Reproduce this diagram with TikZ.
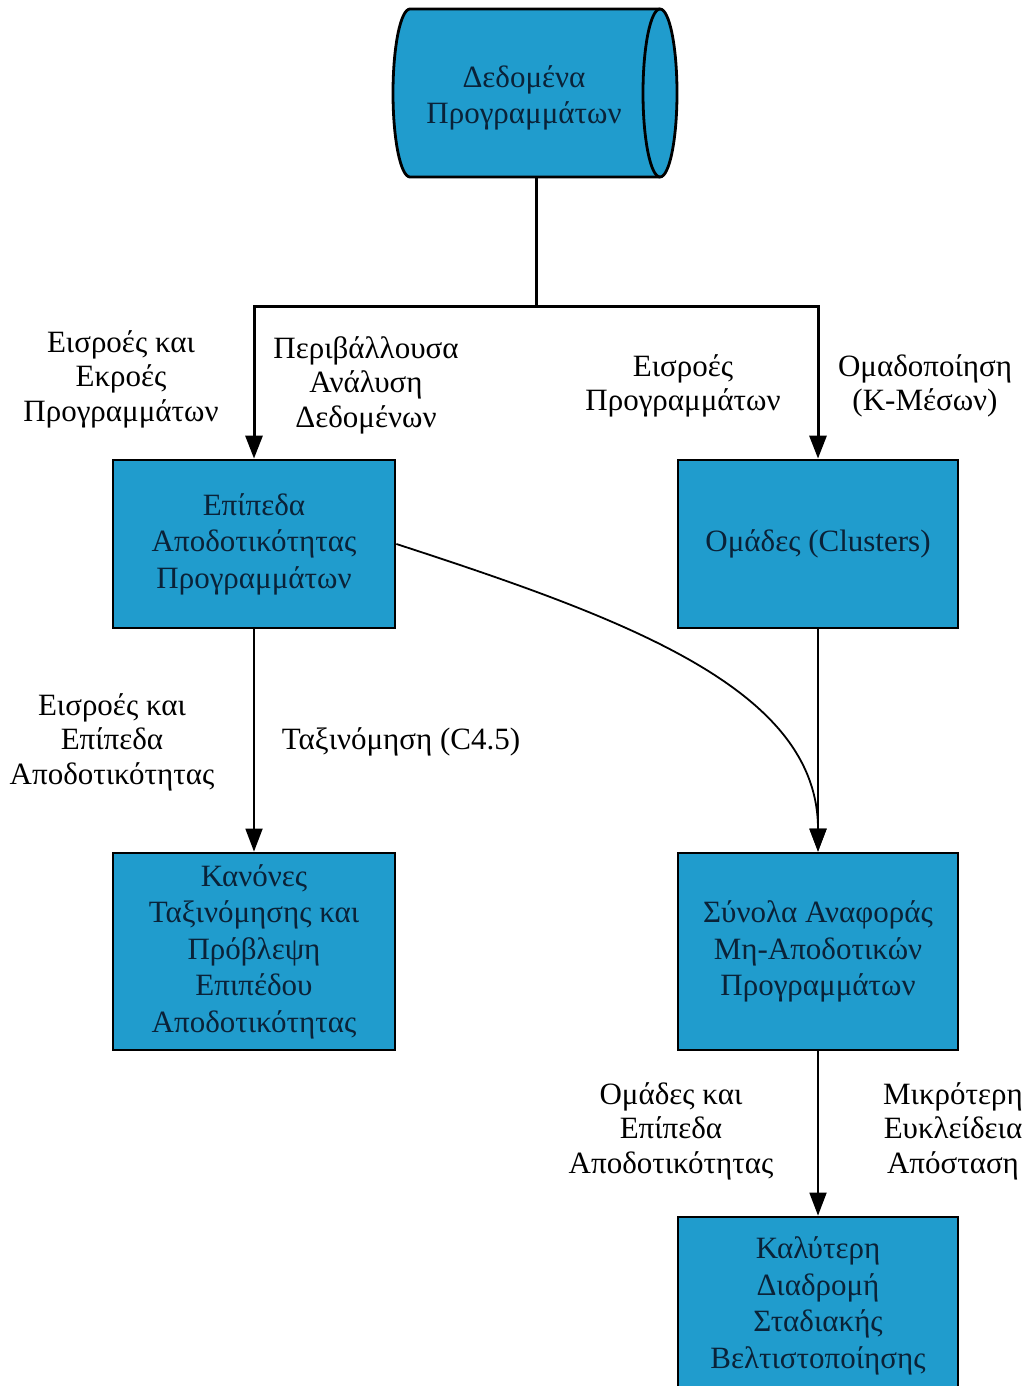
\documentclass[tikz,border=0pt]{standalone}
\usepackage{fontspec}
\setmainfont{Liberation Serif}
\usetikzlibrary{arrows.meta}
\definecolor{boxfill}{RGB}{32,156,205}
\definecolor{boxtext}{RGB}{10,34,56}
\tikzset{
  x=1pt, y=1pt,
  box/.style={draw=black, line width=2.8pt, fill=boxfill, text=boxtext,
    align=center, inner sep=0pt, font=\fontsize{31}{36.5}\selectfont},
  lbl/.style={align=center, inner sep=0pt, text=black, font=\fontsize{31}{34.5}\selectfont},
  arr/.style={-{Triangle[length=23pt,width=17pt]}},
  thickline/.style={line width=3pt},
  thinline/.style={line width=1.8pt},
}
\begin{document}
\begin{tikzpicture}
\useasboundingbox (0,0) rectangle (1035,-1386);
\clip (0,0) rectangle (1035,-1386);
\fill[white] (0,0) rectangle (1035,-1386);

% cylinder
\filldraw[fill=boxfill, draw=black, line width=2.8pt]
  (410,-9) -- (660,-9) arc[start angle=90, end angle=-90, x radius=17, y radius=84]
  -- (410,-177) arc[start angle=270, end angle=90, x radius=17, y radius=84] -- cycle;
\draw[black, line width=2.8pt] (660,-9) arc[start angle=90, end angle=270, x radius=17, y radius=84];
\node[inner sep=0pt, minimum width=284pt, minimum height=168pt] (cyl) at (536,-93) {};
\node[box, draw=none, fill=none] (cyltext) at (524,-98) {Δεδομένα\\Προγραμμάτων};

% boxes
\node[box, minimum width=282pt, minimum height=168pt] (box1) at (254,-544) {Επίπεδα\\Αποδοτικότητας\\Προγραμμάτων};
\node[box, minimum width=280pt, minimum height=168pt] (box2) at (818,-544) {Ομάδες (Clusters)};
\node[box, minimum width=282pt, minimum height=197pt] (box3) at (254,-951.5) {Κανόνες\\Ταξινόμησης και\\Πρόβλεψη\\Επιπέδου\\Αποδοτικότητας};
\node[box, minimum width=280pt, minimum height=197pt] (box4) at (818,-951.5) {Σύνολα Αναφοράς\\Μη-Αποδοτικών\\Προγραμμάτων};
\node[box, minimum width=280pt, minimum height=178pt] (box5) at (818,-1306) {Καλύτερη\\Διαδρομή\\Σταδιακής\\Βελτιστοποίησης};

% connectors
\coordinate (split) at (536,-306);
\draw[thickline] (cyl.south) -- (split);
\draw[thickline, arr] (split) -| (box1.north);
\draw[thickline, arr] (split) -| (box2.north);
\draw[thinline, arr] (box1.south) -- (box3.north);
\draw[thinline, arr] (box2.south) -- (box4.north);
\draw[thinline, arr] (box1.east) .. controls (630,-620) and (818,-690) .. (box4.north);
\draw[thinline, arr] (box4.south) -- (box5.north);

% labels
\node[lbl] (l1) at (121,-379) {Εισροές και\\Εκροές\\Προγραμμάτων};
\node[lbl] (l2) at (366,-385) {Περιβάλλουσα\\Ανάλυση\\Δεδομένων};
\node[lbl] (l3) at (683,-386) {Εισροές\\Προγραμμάτων};
\node[lbl] (l4) at (925,-386) {Ομαδοποίηση\\(Κ-Μέσων)};
\node[lbl] (l5) at (112,-742) {Εισροές και\\Επίπεδα\\Αποδοτικότητας};
\node[lbl] (l6) at (401,-742) {Ταξινόμηση (C4.5)};
\node[lbl] (l7) at (671,-1131) {Ομάδες και\\Επίπεδα\\Αποδοτικότητας};
\node[lbl] (l8) at (953,-1131) {Μικρότερη\\Ευκλείδεια\\Απόσταση};
\end{tikzpicture}
\end{document}
